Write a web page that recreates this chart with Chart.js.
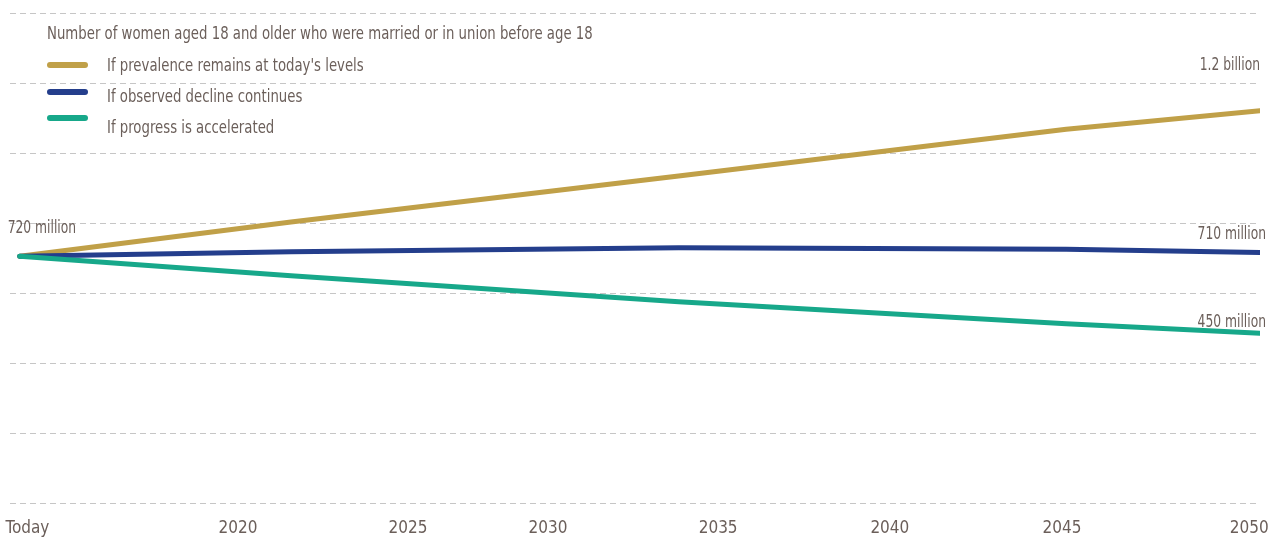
<!DOCTYPE html>
<html>
<head>
<meta charset="utf-8">
<script src="https://cdn.jsdelivr.net/npm/chart.js@4.4.1/dist/chart.umd.min.js"></script>
<style>
  html, body { margin: 0; padding: 0; background: #fff; }
  #wrap { position: relative; width: 1275px; height: 541px; }
  #legend { position: absolute; left: 0; top: 0; font-family: "DejaVu Sans Condensed", "DejaVu Sans", sans-serif; font-stretch: condensed; color: #6b5f5a; }
  #legend .title, #legend .txt { position: absolute; font-size: 18px; line-height: 22px; white-space: nowrap; transform: scaleX(0.82); transform-origin: 0 50%; }
  #legend .title { left: 47px; top: 22px; }
  #legend .txt { left: 107px; }
  #legend .sw { position: absolute; left: 47px; width: 41px; height: 6px; border-radius: 3px; }
</style>
</head>
<body>
<div id="wrap">
  <canvas id="chart" width="1275" height="541"></canvas>
  <div id="legend"></div>
</div>
<script>
// data
const legendTitle = "Number of women aged 18 and older who were married or in union before age 18";
const years = [2018, 2025, 2035, 2045, 2050];   // first point = "Today"
const seriesNames = ["If prevalence remains at today's levels", "If observed decline continues", "If progress is accelerated"];
const seriesColors = ["#c0a048", "#243e8c", "#17a88a"];
const prevalenceSame = [720, 818, 949, 1083, 1136];
const declineContinues = [720, 733, 744, 740, 731];
const progressAccelerated = [720, 664, 590, 527, 500];
const tickLabels = ["Today", "2020", "2025", "2030", "2035", "2040", "2045", "2050"];
const tickPos = [2018.2, 2023.63, 2028.02, 2031.63, 2036.02, 2040.45, 2044.89, 2049.72];
const startLabel = "720 million";
const endLabels = ["1.2 billion", "710 million", "450 million"];

const font = "'DejaVu Sans Condensed', 'DejaVu Sans', sans-serif";
const textColor = "#6b5f5a";

const allSeries = [prevalenceSame, declineContinues, progressAccelerated];

// html legend
const legend = document.getElementById("legend");
let t = document.createElement("div");
t.className = "title";
t.textContent = legendTitle;
legend.appendChild(t);
const swTop = [62, 89, 115];
const txtTop = [54, 85, 116];
seriesNames.forEach((name, i) => {
  let sw = document.createElement("div");
  sw.className = "sw";
  sw.style.top = swTop[i] + "px";
  sw.style.background = seriesColors[i];
  legend.appendChild(sw);
  let tx = document.createElement("div");
  tx.className = "txt";
  tx.style.top = txtTop[i] + "px";
  tx.textContent = name;
  legend.appendChild(tx);
});

// value labels at start / end of the lines (narrowed to look condensed)
function narrowText(ctx, txt, x, y, align) {
  ctx.save();
  ctx.translate(x, y);
  ctx.scale(0.76, 1);
  ctx.textAlign = align;
  ctx.fillText(txt, 0, 0);
  ctx.restore();
}

const valueLabels = {
  id: "valueLabels",
  afterDatasetsDraw(chart) {
    const ctx = chart.ctx;
    ctx.save();
    ctx.font = "normal condensed 18px " + font;
    ctx.fillStyle = textColor;
    ctx.textBaseline = "middle";
    const first = chart.getDatasetMeta(0).data[0];
    narrowText(ctx, startLabel, first.x - 12, first.y - 28, "left");
    const dy = [-45, -18, -11];
    const dx = [0, 6, 6];
    endLabels.forEach((lbl, i) => {
      const pts = chart.getDatasetMeta(i).data;
      const p = pts[pts.length - 1];
      narrowText(ctx, lbl, p.x + dx[i], p.y + dy[i], "right");
    });
    ctx.restore();
  }
};

const ctx = document.getElementById("chart").getContext("2d");
const chart = new Chart(ctx, {
  type: "line",
  data: {
    datasets: allSeries.map((s, i) => ({
      label: seriesNames[i],
      data: s.map((v, j) => ({ x: years[j], y: v })),
      borderColor: seriesColors[i],
      backgroundColor: seriesColors[i],
      borderWidth: 5,
      borderCapStyle: "round",
      borderJoinStyle: "round",
      pointRadius: 0,
      tension: 0,
      fill: false,
      order: 2 - i
    }))
  },
  options: {
    responsive: false,
    animation: false,
    layout: { padding: { left: 10, right: 15, top: 13, bottom: 0 } },
    plugins: {
      legend: { display: false },
      tooltip: { enabled: false }
    },
    scales: {
      x: {
        type: "linear",
        min: 2017.75,
        max: 2050,
        grid: { display: false, drawTicks: false },
        border: { display: false },
        afterBuildTicks(scale) {
          scale.ticks = tickPos.map(v => ({ value: v }));
        },
        afterFit(scale) {
          scale.paddingLeft = 0;
          scale.paddingRight = 0;
          scale.height = 38;
        },
        ticks: {
          autoSkip: false,
          maxRotation: 0,
          padding: 15,
          color: textColor,
          font: { family: font, size: 17, weight: "normal condensed" },
          callback: (v, i) => tickLabels[i]
        }
      },
      y: {
        min: 15,
        max: 1415,
        ticks: { display: false, stepSize: 200 },
        grid: { color: "#c6c6c6", lineWidth: 1, drawTicks: false },
        border: { display: false, dash: [6, 4] }
      }
    }
  },
  plugins: [valueLabels]
});
</script>
</body>
</html>
